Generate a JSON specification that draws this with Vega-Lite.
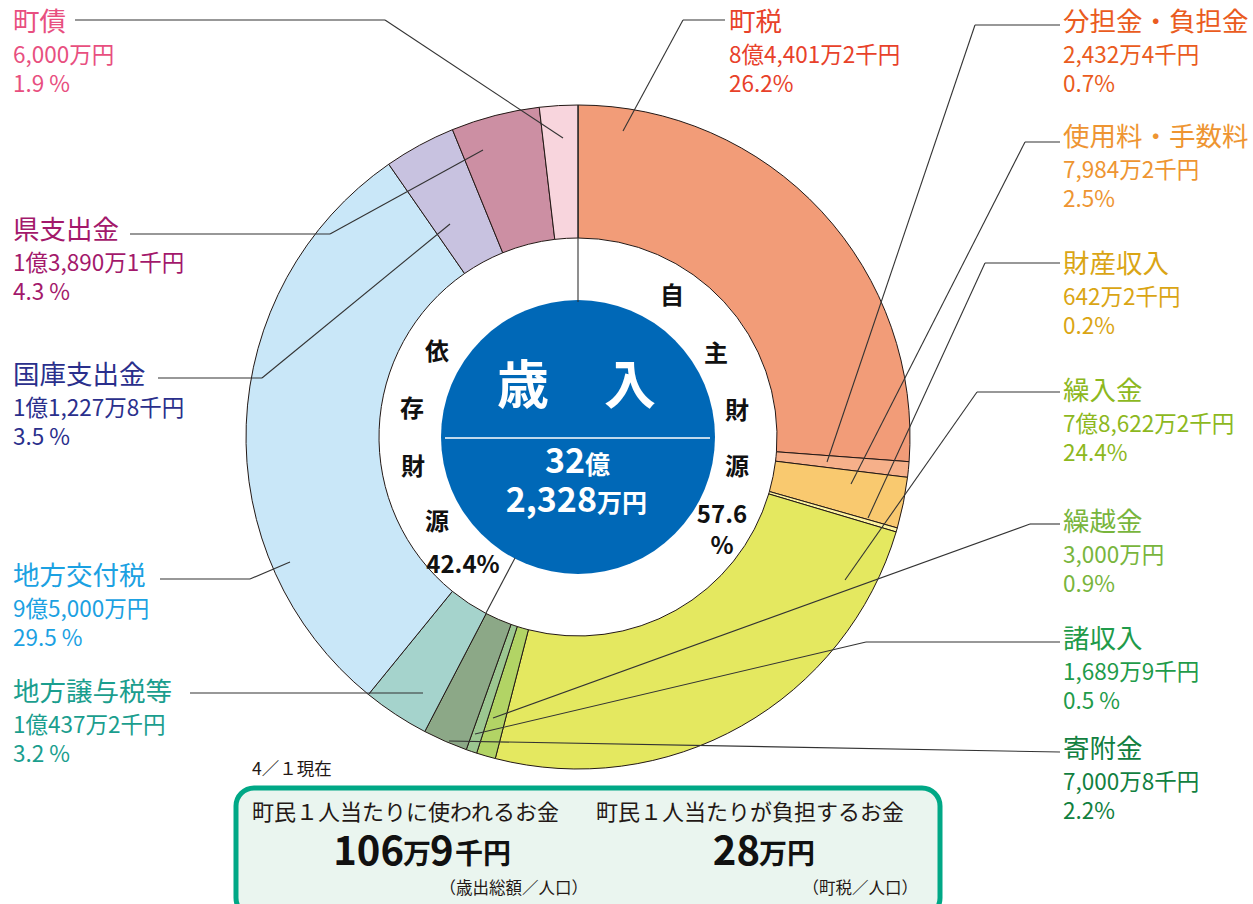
{
  "$schema": "https://vega.github.io/schema/vega-lite/v6.json",
  "width": 1156,
  "height": 874,
  "autosize": {"type": "none"},
  "padding": {"left": 0, "top": 0, "right": 97, "bottom": 30},
  "background": "white",
  "config": {"view": {"stroke": null}, "font": "Noto Sans CJK JP", "text": {"font": "Noto Sans CJK JP"}},
  "datasets": {
    "revenue": [
      {"ord": 1, "item": "町税", "amount": 844012},
      {"ord": 2, "item": "分担金・負担金", "amount": 24324},
      {"ord": 3, "item": "使用料・手数料", "amount": 79842},
      {"ord": 4, "item": "財産収入", "amount": 6422},
      {"ord": 5, "item": "繰入金", "amount": 786222},
      {"ord": 6, "item": "繰越金", "amount": 30000},
      {"ord": 7, "item": "諸収入", "amount": 16899},
      {"ord": 8, "item": "寄附金", "amount": 70008},
      {"ord": 9, "item": "地方譲与税等", "amount": 104372},
      {"ord": 10, "item": "地方交付税", "amount": 950000},
      {"ord": 11, "item": "国庫支出金", "amount": 112278},
      {"ord": 12, "item": "県支出金", "amount": 138901},
      {"ord": 13, "item": "町債", "amount": 60000}
    ],
    "labels": [
      {"item": "町債", "amt": "6,000万円", "pct": "1.9 %", "x": 13, "y": 27},
      {"item": "県支出金", "amt": "1億3,890万1千円", "pct": "4.3 %", "x": 13, "y": 235},
      {"item": "国庫支出金", "amt": "1億1,227万8千円", "pct": "3.5 %", "x": 13, "y": 380},
      {"item": "地方交付税", "amt": "9億5,000万円", "pct": "29.5 %", "x": 13, "y": 581},
      {"item": "地方譲与税等", "amt": "1億437万2千円", "pct": "3.2 %", "x": 13, "y": 697},
      {"item": "町税", "amt": "8億4,401万2千円", "pct": "26.2%", "x": 729, "y": 27},
      {"item": "分担金・負担金", "amt": "2,432万4千円", "pct": "0.7%", "x": 1063, "y": 27},
      {"item": "使用料・手数料", "amt": "7,984万2千円", "pct": "2.5%", "x": 1063, "y": 142},
      {"item": "財産収入", "amt": "642万2千円", "pct": "0.2%", "x": 1063, "y": 269},
      {"item": "繰入金", "amt": "7億8,622万2千円", "pct": "24.4%", "x": 1063, "y": 396},
      {"item": "繰越金", "amt": "3,000万円", "pct": "0.9%", "x": 1063, "y": 527},
      {"item": "諸収入", "amt": "1,689万9千円", "pct": "0.5 %", "x": 1063, "y": 644},
      {"item": "寄附金", "amt": "7,000万8千円", "pct": "2.2%", "x": 1063, "y": 754}
    ],
    "leaders": [
      {"x": 75, "y": 20, "x2": 385, "y2": 20},
      {"x": 385, "y": 20, "x2": 563, "y2": 138},
      {"x": 130, "y": 234, "x2": 330, "y2": 234},
      {"x": 330, "y": 234, "x2": 483, "y2": 150},
      {"x": 158, "y": 378, "x2": 262, "y2": 378},
      {"x": 262, "y": 378, "x2": 450, "y2": 224},
      {"x": 160, "y": 579, "x2": 250, "y2": 579},
      {"x": 250, "y": 579, "x2": 290, "y2": 562},
      {"x": 190, "y": 693, "x2": 423, "y2": 693},
      {"x": 683, "y": 20, "x2": 725, "y2": 20},
      {"x": 683, "y": 20, "x2": 623, "y2": 131},
      {"x": 975, "y": 25, "x2": 1060, "y2": 25},
      {"x": 975, "y": 25, "x2": 827, "y2": 462},
      {"x": 1025, "y": 142, "x2": 1060, "y2": 142},
      {"x": 1025, "y": 142, "x2": 851, "y2": 484},
      {"x": 985, "y": 263, "x2": 1060, "y2": 263},
      {"x": 985, "y": 263, "x2": 868, "y2": 518},
      {"x": 977, "y": 392, "x2": 1060, "y2": 392},
      {"x": 977, "y": 392, "x2": 845, "y2": 580},
      {"x": 1030, "y": 524, "x2": 1060, "y2": 524},
      {"x": 1030, "y": 524, "x2": 493, "y2": 718},
      {"x": 866, "y": 642, "x2": 1060, "y2": 642},
      {"x": 866, "y": 642, "x2": 475, "y2": 734},
      {"x": 1060, "y": 752, "x2": 449, "y2": 741},
      {"x": 578, "y": 105, "x2": 578, "y2": 302},
      {"x": 515, "y": 558, "x2": 486, "y2": 613}
    ],
    "box": [{"x": 236, "y": 788, "x2": 940, "y2": 916}],
    "centerline": [{"x": 445, "y": 438, "x2": 710, "y2": 438}],
    "annot": [
      {"kind": "ring", "t": "自", "x": 672, "y": 297},
      {"kind": "ring", "t": "主", "x": 716, "y": 355},
      {"kind": "ring", "t": "財", "x": 737, "y": 412},
      {"kind": "ring", "t": "源", "x": 737, "y": 468},
      {"kind": "ring", "t": "57.6", "x": 722, "y": 516},
      {"kind": "ring", "t": "%", "x": 722, "y": 547},
      {"kind": "ring", "t": "依", "x": 437, "y": 353},
      {"kind": "ring", "t": "存", "x": 412, "y": 410},
      {"kind": "ring", "t": "財", "x": 413, "y": 468},
      {"kind": "ring", "t": "源", "x": 437, "y": 523},
      {"kind": "ring", "t": "42.4%", "x": 463, "y": 566},
      {"kind": "title", "t": "歳", "x": 523, "y": 388},
      {"kind": "title", "t": "入", "x": 630, "y": 388},
      {"kind": "cnum", "t": "32", "x": 585, "y": 463},
      {"kind": "cunit", "t": "億", "x": 585, "y": 466},
      {"kind": "cnum", "t": "2,328", "x": 597, "y": 502},
      {"kind": "cunit", "t": "万円", "x": 597, "y": 504},
      {"kind": "note", "t": "4／１現在", "x": 252, "y": 770},
      {"kind": "box", "t": "町民１人当たりに使われるお金", "x": 252, "y": 813},
      {"kind": "box", "t": "町民１人当たりが負担するお金", "x": 596, "y": 813},
      {"kind": "bnum", "t": "106", "x": 404, "y": 853},
      {"kind": "bunit", "t": "万", "x": 403, "y": 856},
      {"kind": "bnum2", "t": "9", "x": 430, "y": 853},
      {"kind": "bunit", "t": "千円", "x": 455, "y": 856},
      {"kind": "bnum", "t": "28", "x": 760, "y": 853},
      {"kind": "bunit", "t": "万円", "x": 759, "y": 856},
      {"kind": "small", "t": "（歳出総額／人口）", "x": 588, "y": 889},
      {"kind": "small", "t": "（町税／人口）", "x": 918, "y": 889}
    ]
  },
  "layer": [
    {
      "data": {"name": "box"},
      "mark": {"type": "rect", "cornerRadius": 18, "fill": "#EAF5EF", "stroke": "#00A886", "strokeWidth": 5},
      "encoding": {
        "x": {"field": "x", "type": "quantitative", "scale": {"domain": [0, 1156], "nice": false, "zero": false}, "axis": null},
        "x2": {"field": "x2"},
        "y": {"field": "y", "type": "quantitative", "scale": {"domain": [0, 874], "nice": false, "zero": false, "reverse": true}, "axis": null},
        "y2": {"field": "y2"}
      }
    },
    {
      "data": {"name": "revenue"},
      "mark": {"type": "arc", "radius": 332, "radius2": 199, "stroke": "#231815", "strokeWidth": 1},
      "encoding": {
        "theta": {"field": "amount", "type": "quantitative", "stack": true},
        "order": {"field": "ord", "type": "quantitative"},
        "color": {
          "field": "item", "type": "nominal", "legend": null,
          "scale": {
            "domain": ["町税", "分担金・負担金", "使用料・手数料", "財産収入", "繰入金", "繰越金", "諸収入", "寄附金", "地方譲与税等", "地方交付税", "国庫支出金", "県支出金", "町債"],
            "range": ["#F29C78", "#F6B08A", "#F9C96F", "#FDF3A0", "#E4E860", "#B2D465", "#9CC791", "#8CA887", "#A5D3CC", "#C9E7F8", "#C8C2E0", "#CC8FA3", "#F8D5DD"]
          }
        }
      }
    },
    {
      "data": {"values": [{"c": "center"}]},
      "mark": {"type": "arc", "radius": 137, "theta": 0, "theta2": 6.2832, "fill": "#0068B7"},
      "encoding": {}
    },
    {
      "data": {"name": "centerline"},
      "mark": {"type": "rule", "color": "white", "strokeWidth": 1.5},
      "encoding": {
        "x": {"field": "x", "type": "quantitative", "axis": null},
        "x2": {"field": "x2"},
        "y": {"field": "y", "type": "quantitative", "axis": null},
        "y2": {"field": "y2"}
      }
    },
    {
      "data": {"name": "leaders"},
      "mark": {"type": "rule", "color": "#333333", "strokeWidth": 1.1},
      "encoding": {
        "x": {"field": "x", "type": "quantitative", "axis": null},
        "x2": {"field": "x2"},
        "y": {"field": "y", "type": "quantitative", "axis": null},
        "y2": {"field": "y2"}
      }
    },
    {
      "data": {"name": "labels"},
      "mark": {"type": "text", "align": "left", "baseline": "middle", "fontSize": 26.5, "dy": -4},
      "encoding": {
        "x": {"field": "x", "type": "quantitative", "axis": null},
        "y": {"field": "y", "type": "quantitative", "axis": null},
        "text": {"field": "item"},
        "color": {
          "field": "item", "type": "nominal", "legend": null,
          "scale": {
            "domain": ["町税", "分担金・負担金", "使用料・手数料", "財産収入", "繰入金", "繰越金", "諸収入", "寄附金", "地方譲与税等", "地方交付税", "国庫支出金", "県支出金", "町債"],
            "range": ["#E8412A", "#EA5B20", "#EE9532", "#DAA514", "#8DB81E", "#78B53C", "#1F9B4A", "#11803F", "#1A9E8E", "#1BA1E2", "#2A2F8C", "#A3186B", "#E84F80"]
          }
        }
      }
    },
    {
      "data": {"name": "labels"},
      "transform": [{"calculate": "[datum.amt, datum.pct]", "as": "block"}],
      "mark": {"type": "text", "align": "left", "baseline": "middle", "fontSize": 22.5, "lineHeight": 29, "dy": 29},
      "encoding": {
        "x": {"field": "x", "type": "quantitative", "axis": null},
        "y": {"field": "y", "type": "quantitative", "axis": null},
        "text": {"field": "block"},
        "color": {
          "field": "item", "type": "nominal", "legend": null,
          "scale": {
            "domain": ["町税", "分担金・負担金", "使用料・手数料", "財産収入", "繰入金", "繰越金", "諸収入", "寄附金", "地方譲与税等", "地方交付税", "国庫支出金", "県支出金", "町債"],
            "range": ["#E8412A", "#EA5B20", "#EE9532", "#DAA514", "#8DB81E", "#78B53C", "#1F9B4A", "#11803F", "#1A9E8E", "#1BA1E2", "#2A2F8C", "#A3186B", "#E84F80"]
          }
        }
      }
    },
    {
      "data": {"name": "annot"},
      "transform": [{"filter": "datum.kind === 'ring'"}],
      "mark": {"type": "text", "align": "center", "baseline": "middle", "fontSize": 24, "fontWeight": "bold", "color": "#111111"},
      "encoding": {
        "x": {"field": "x", "type": "quantitative", "axis": null},
        "y": {"field": "y", "type": "quantitative", "axis": null},
        "text": {"field": "t"}
      }
    },
    {
      "data": {"name": "annot"},
      "transform": [{"filter": "datum.kind === 'title'"}],
      "mark": {"type": "text", "align": "center", "baseline": "middle", "fontSize": 52, "fontWeight": "bold", "color": "white"},
      "encoding": {
        "x": {"field": "x", "type": "quantitative", "axis": null},
        "y": {"field": "y", "type": "quantitative", "axis": null},
        "text": {"field": "t"}
      }
    },
    {
      "data": {"name": "annot"},
      "transform": [{"filter": "datum.kind === 'cnum'"}],
      "mark": {"type": "text", "align": "right", "baseline": "middle", "fontSize": 34, "fontWeight": "bold", "color": "white"},
      "encoding": {
        "x": {"field": "x", "type": "quantitative", "axis": null},
        "y": {"field": "y", "type": "quantitative", "axis": null},
        "text": {"field": "t"}
      }
    },
    {
      "data": {"name": "annot"},
      "transform": [{"filter": "datum.kind === 'cunit'"}],
      "mark": {"type": "text", "align": "left", "baseline": "middle", "fontSize": 25, "fontWeight": "bold", "color": "white"},
      "encoding": {
        "x": {"field": "x", "type": "quantitative", "axis": null},
        "y": {"field": "y", "type": "quantitative", "axis": null},
        "text": {"field": "t"}
      }
    },
    {
      "data": {"name": "annot"},
      "transform": [{"filter": "datum.kind === 'note'"}],
      "mark": {"type": "text", "align": "left", "baseline": "middle", "fontSize": 17.5, "color": "#231815"},
      "encoding": {
        "x": {"field": "x", "type": "quantitative", "axis": null},
        "y": {"field": "y", "type": "quantitative", "axis": null},
        "text": {"field": "t"}
      }
    },
    {
      "data": {"name": "annot"},
      "transform": [{"filter": "datum.kind === 'box'"}],
      "mark": {"type": "text", "align": "left", "baseline": "middle", "fontSize": 22, "color": "#231815"},
      "encoding": {
        "x": {"field": "x", "type": "quantitative", "axis": null},
        "y": {"field": "y", "type": "quantitative", "axis": null},
        "text": {"field": "t"}
      }
    },
    {
      "data": {"name": "annot"},
      "transform": [{"filter": "datum.kind === 'bnum'"}],
      "mark": {"type": "text", "align": "right", "baseline": "middle", "fontSize": 40, "fontWeight": "bold", "color": "#111111"},
      "encoding": {
        "x": {"field": "x", "type": "quantitative", "axis": null},
        "y": {"field": "y", "type": "quantitative", "axis": null},
        "text": {"field": "t"}
      }
    },
    {
      "data": {"name": "annot"},
      "transform": [{"filter": "datum.kind === 'bnum2'"}],
      "mark": {"type": "text", "align": "left", "baseline": "middle", "fontSize": 40, "fontWeight": "bold", "color": "#111111"},
      "encoding": {
        "x": {"field": "x", "type": "quantitative", "axis": null},
        "y": {"field": "y", "type": "quantitative", "axis": null},
        "text": {"field": "t"}
      }
    },
    {
      "data": {"name": "annot"},
      "transform": [{"filter": "datum.kind === 'bunit'"}],
      "mark": {"type": "text", "align": "left", "baseline": "middle", "fontSize": 28, "fontWeight": "bold", "color": "#111111"},
      "encoding": {
        "x": {"field": "x", "type": "quantitative", "axis": null},
        "y": {"field": "y", "type": "quantitative", "axis": null},
        "text": {"field": "t"}
      }
    },
    {
      "data": {"name": "annot"},
      "transform": [{"filter": "datum.kind === 'small'"}],
      "mark": {"type": "text", "align": "right", "baseline": "middle", "fontSize": 16.5, "color": "#231815"},
      "encoding": {
        "x": {"field": "x", "type": "quantitative", "axis": null},
        "y": {"field": "y", "type": "quantitative", "axis": null},
        "text": {"field": "t"}
      }
    }
  ],
  "resolve": {"scale": {"color": "independent"}}
}
